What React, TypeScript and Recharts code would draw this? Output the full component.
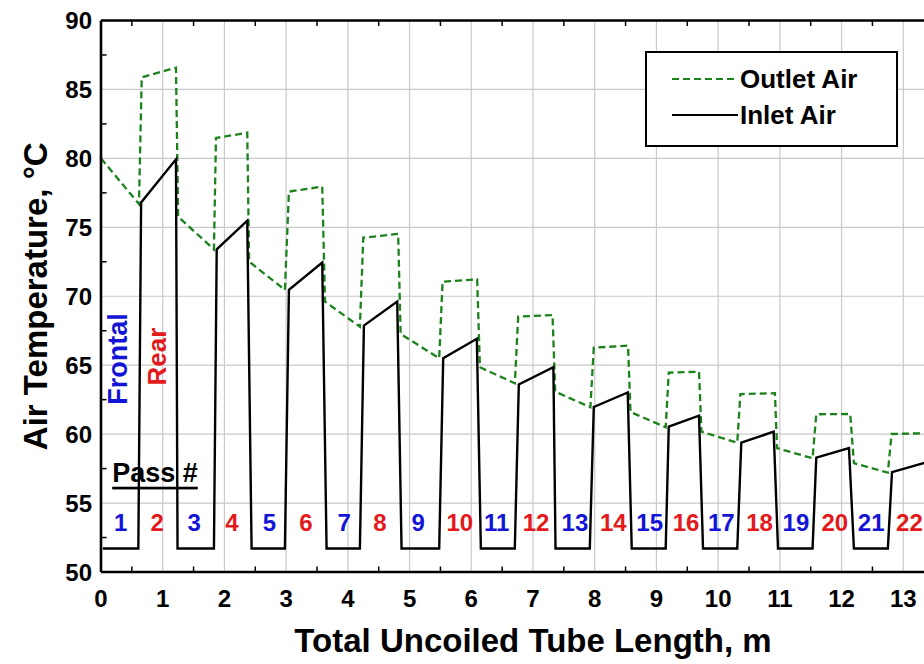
import {
  ComposedChart,
  Line,
  Scatter,
  XAxis,
  YAxis,
  CartesianGrid,
  ReferenceLine,
} from "recharts";

// inlet air (black, solid): frontal passes sit on the ambient floor, rear passes take frontal outlet
const inletLength = [
  0.03, 0.605, 0.65, 1.215, 1.24, 1.83, 1.875, 2.37, 2.44, 2.98, 3.045, 3.585,
  3.655, 4.195, 4.26, 4.8, 4.87, 5.48, 5.545, 6.09, 6.155, 6.705, 6.77, 7.33,
  7.365, 7.92, 7.985, 8.535, 8.6, 9.15, 9.2, 9.69, 9.755, 10.31, 10.375, 10.9,
  10.97, 11.53, 11.59, 12.12, 12.2, 12.75, 12.817, 13.4,
];
const inletTemp = [
  51.7, 51.7, 76.8, 79.93, 51.7, 51.7, 73.4, 75.48, 51.7, 51.7, 70.46, 72.44,
  51.7, 51.7, 67.87, 69.61, 51.7, 51.7, 65.5, 66.92, 51.7, 51.7, 63.6, 64.85,
  51.7, 51.7, 61.97, 63.02, 51.7, 51.7, 60.55, 61.34, 51.7, 51.7, 59.38, 60.18,
  51.7, 51.7, 58.3, 58.98, 51.7, 51.7, 57.24, 57.98,
];

// outlet air (green, dashed)
const outletLength = [
  0, 0.615, 0.66, 1.215, 1.25, 1.83, 1.863, 2.37, 2.4, 2.98, 3.045, 3.585,
  3.63, 4.195, 4.25, 4.815, 4.855, 5.48, 5.535, 6.095, 6.14, 6.706, 6.76, 7.316,
  7.36, 7.93, 7.985, 8.54, 8.58, 9.15, 9.2, 9.69, 9.73, 10.31, 10.36, 10.92,
  10.955, 11.53, 11.59, 12.14, 12.2, 12.75, 12.81, 13.4,
];
const outletTemp = [
  80.0, 76.69, 85.88, 86.58, 75.77, 73.4, 81.48, 81.86, 72.51, 70.46, 77.59, 77.95,
  69.61, 67.79, 74.25, 74.52, 67.27, 65.5, 71.06, 71.23, 64.85, 63.69, 68.52, 68.64,
  63.08, 61.95, 66.27, 66.42, 61.6, 60.5, 64.46, 64.53, 60.18, 59.38, 62.9, 62.97,
  58.98, 58.25, 61.44, 61.46, 57.89, 57.21, 60.01, 60.07,
];

const passNumbers = [
  1, 2, 3, 4, 5, 6, 7, 8, 9, 10, 11, 12, 13, 14, 15, 16, 17, 18, 19, 20, 21, 22,
];
const passLabelX = [
  0.32, 0.91, 1.51, 2.12, 2.73, 3.32, 3.94, 4.52, 5.14, 5.815, 6.41, 7.05, 7.68,
  8.3, 8.89, 9.48, 10.05, 10.67, 11.26, 11.89, 12.48, 13.1,
];
const passLabelTemp = 53.6;

const xTicks = [0, 1, 2, 3, 4, 5, 6, 7, 8, 9, 10, 11, 12, 13];
const yTicks = [50, 55, 60, 65, 70, 75, 80, 85, 90];
const xMinor = [0.5, 1.5, 2.5, 3.5, 4.5, 5.5, 6.5, 7.5, 8.5, 9.5, 10.5, 11.5, 12.5, 13.5];
const yMinor = [52.5, 57.5, 62.5, 67.5, 72.5, 77.5, 82.5, 87.5];

const FONT = "'Liberation Sans', Arial, sans-serif";
const GREEN = "#1c821c";
const BLUE = "#1414d6";
const RED = "#e3191b";

const inletData = inletLength.map((x, i) => ({ x, t: inletTemp[i] }));
const outletData = outletLength.map((x, i) => ({ x, t: outletTemp[i] }));
const passData = passNumbers.map((n, i) => ({
  x: passLabelX[i],
  t: passLabelTemp,
  label: String(n),
  color: n % 2 === 1 ? BLUE : RED,
}));
const sideNotes = [
  { x: 0.275, t: 65.45, label: "Frontal", color: BLUE, size: 27, rotate: true },
  { x: 0.907, t: 65.62, label: "Rear", color: RED, size: 26, rotate: true },
  { x: 0.875, t: 57.2, label: "Pass #", color: "#000", size: 27, rotate: false },
];

const PassLabel = (props: any) => {
  const { cx, cy, payload } = props;
  return (
    <text
      x={cx}
      y={cy}
      textAnchor="middle"
      dominantBaseline="central"
      fill={payload.color}
      fontFamily={FONT}
      fontWeight={700}
      fontSize={24}
    >
      {payload.label}
    </text>
  );
};

const NoteLabel = (props: any) => {
  const { cx, cy, payload } = props;
  return (
    <text
      x={cx}
      y={cy}
      textAnchor="middle"
      dominantBaseline="central"
      fill={payload.color}
      fontFamily={FONT}
      fontWeight={700}
      fontSize={payload.size}
      textDecoration={payload.rotate ? undefined : "underline"}
      transform={payload.rotate ? `rotate(-90 ${cx} ${cy})` : undefined}
    >
      {payload.label}
    </text>
  );
};

const tickStyle = { fontSize: 24, fontWeight: 700, fill: "#000", fontFamily: FONT };
const titleStyle = { fontSize: 33, fontWeight: 700, fill: "#000", fontFamily: FONT };

const LegendBox = () => (
  <div
    style={{
      position: "absolute",
      left: 645,
      top: 51,
      width: 249,
      height: 92,
      border: "2px solid #000",
      background: "#fff",
      fontFamily: FONT,
      fontWeight: 700,
      fontSize: 26,
      color: "#000",
    }}
  >
    {[
      { name: "Outlet Air", color: GREEN, dash: "7 4", top: 10 },
      { name: "Inlet Air", color: "#000", dash: undefined, top: 46 },
    ].map((item) => (
      <div
        key={item.name}
        style={{ position: "absolute", left: 25, top: item.top, display: "flex", alignItems: "center", height: 32 }}
      >
        <svg width={66} height={6}>
          <line x1={0} y1={3} x2={66} y2={3} stroke={item.color} strokeWidth={2.2} strokeDasharray={item.dash} />
        </svg>
        <span style={{ marginLeft: 2 }}>{item.name}</span>
      </div>
    ))}
  </div>
);

export default function App() {
  return (
    <div
      style={{
        position: "absolute",
        left: 0,
        top: 0,
        width: 924,
        height: 664,
        overflow: "hidden",
        background: "#fff",
      }}
    >
      <ComposedChart
        width={980}
        height={664}
        margin={{ top: 20.5, right: 15, bottom: 0, left: 0 }}
      >
        <CartesianGrid stroke="#c9c9c9" strokeWidth={1.2} />
        <XAxis
          type="number"
          dataKey="x"
          domain={[0, 14]}
          ticks={xTicks}
          allowDataOverflow
          height={92}
          tickLine={false}
          tickSize={0}
          tickMargin={18}
          axisLine={{ stroke: "#000", strokeWidth: 2.6 }}
          tick={tickStyle}
          label={{
            value: "Total Uncoiled Tube Length, m",
            position: "insideBottom",
            offset: 12,
            style: titleStyle,
          }}
        />
        <YAxis
          type="number"
          domain={[50, 90]}
          ticks={yTicks}
          allowDataOverflow
          width={101}
          tickLine={false}
          tickSize={0}
          tickMargin={9}
          axisLine={{ stroke: "#000", strokeWidth: 2.6 }}
          tick={tickStyle}
          label={{
            value: "Air Temperature, °C",
            angle: -90,
            position: "insideLeft",
            offset: 35,
            style: { ...titleStyle, textAnchor: "middle" },
          }}
        />
        <ReferenceLine y={90} stroke="#000" strokeWidth={2.6} />
        {xMinor.map((v) => (
          <ReferenceLine
            key={"b" + v}
            segment={[{ x: v, y: 50 }, { x: v, y: 50.4 }]}
            stroke="#000"
            strokeWidth={1.5}
          />
        ))}
        {xMinor.map((v) => (
          <ReferenceLine
            key={"t" + v}
            segment={[{ x: v, y: 90 }, { x: v, y: 89.6 }]}
            stroke="#000"
            strokeWidth={1.5}
          />
        ))}
        {yMinor.map((v) => (
          <ReferenceLine
            key={"l" + v}
            segment={[{ x: 0, y: v }, { x: 0.09, y: v }]}
            stroke="#000"
            strokeWidth={1.5}
          />
        ))}
        <Line
          data={outletData}
          dataKey="t"
          name="Outlet Air"
          type="linear"
          stroke={GREEN}
          strokeWidth={2.3}
          strokeDasharray="7 4"
          dot={false}
          activeDot={false}
          isAnimationActive={false}
        />
        <Line
          data={inletData}
          dataKey="t"
          name="Inlet Air"
          type="linear"
          stroke="#000"
          strokeWidth={2.4}
          dot={false}
          activeDot={false}
          isAnimationActive={false}
        />
        <Scatter data={passData} dataKey="t" shape={PassLabel} isAnimationActive={false} />
        <Scatter data={sideNotes} dataKey="t" shape={NoteLabel} isAnimationActive={false} />
      </ComposedChart>
      <LegendBox />
    </div>
  );
}
